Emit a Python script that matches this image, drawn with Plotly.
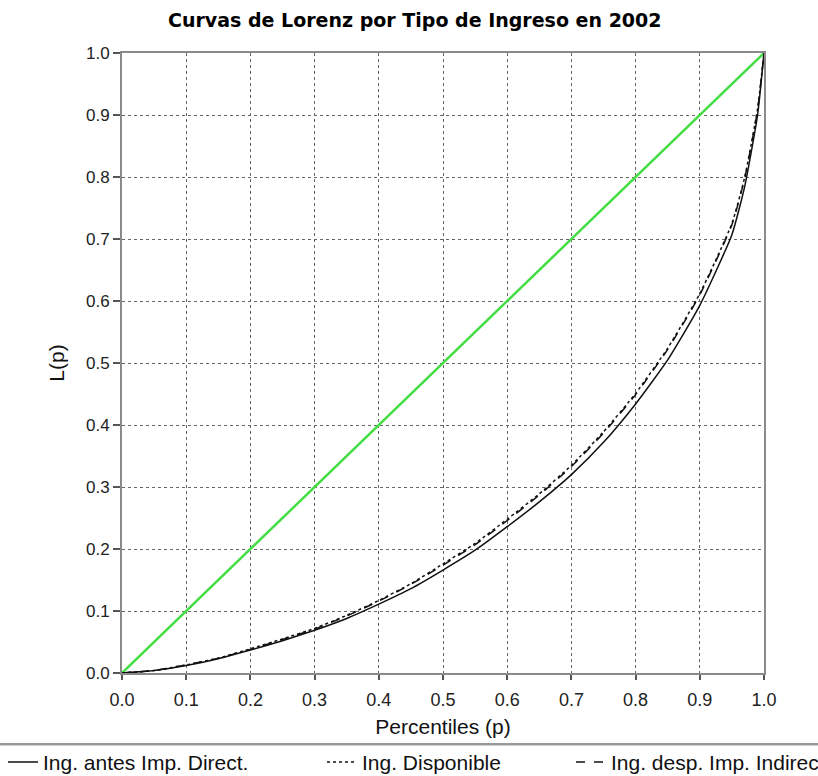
import plotly.graph_objects as go

# Data
p = [0.0, 0.05, 0.10, 0.15, 0.20, 0.25, 0.30, 0.35, 0.40, 0.45, 0.50, 0.55,
     0.60, 0.65, 0.70, 0.75, 0.80, 0.85, 0.90, 0.95, 0.97, 0.99, 1.0]
antes = [0.0, 0.004, 0.012, 0.023, 0.037, 0.052, 0.069, 0.088, 0.111, 0.136, 0.166, 0.198,
         0.236, 0.276, 0.320, 0.372, 0.434, 0.505, 0.593, 0.707, 0.785, 0.900, 1.0]
disponible = [0.0, 0.004, 0.013, 0.024, 0.039, 0.055, 0.072, 0.093, 0.117, 0.144, 0.176, 0.209,
              0.248, 0.289, 0.335, 0.389, 0.451, 0.524, 0.612, 0.725, 0.800, 0.910, 1.0]
desp_indirec = [0.0, 0.004, 0.013, 0.024, 0.038, 0.054, 0.071, 0.092, 0.116, 0.143, 0.174, 0.207,
                0.246, 0.287, 0.333, 0.387, 0.449, 0.522, 0.610, 0.723, 0.798, 0.908, 1.0]
equality = [0.0, 1.0]

ticks = [0.0, 0.1, 0.2, 0.3, 0.4, 0.5, 0.6, 0.7, 0.8, 0.9, 1.0]
tick_labels = ["0.0", "0.1", "0.2", "0.3", "0.4", "0.5", "0.6", "0.7", "0.8", "0.9", "1.0"]

FONT = "Liberation Sans, Arial, sans-serif"

fig = go.Figure()
fig.add_trace(go.Scatter(x=equality, y=equality, mode="lines",
                         line=dict(color="#44dd44", width=2.5), showlegend=False))
fig.add_trace(go.Scatter(x=p, y=antes, mode="lines", name="Ing. antes Imp. Direct.",
                         line=dict(color="#111111", width=1.5, dash="solid",
                                   shape="spline", smoothing=0.5),
                         legend="legend", legendwidth=274))
fig.add_trace(go.Scatter(x=p, y=disponible, mode="lines", name="Ing. Disponible",
                         line=dict(color="#111111", width=1.5, dash="dot",
                                   shape="spline", smoothing=0.5),
                         legend="legend", legendwidth=204))
fig.add_trace(go.Scatter(x=p, y=desp_indirec, mode="lines", name="Ing. desp. Imp. Indirec",
                         line=dict(color="#111111", width=1.5, dash="dash",
                                   shape="spline", smoothing=0.5),
                         legend="legend2"))

axis_common = dict(
    range=[0, 1], tickvals=ticks, ticktext=tick_labels,
    showgrid=True, gridcolor="#666666", griddash="3px,3px", gridwidth=1,
    showline=True, linecolor="#8a8a8a", linewidth=2, mirror=True,
    ticks="outside", tickcolor="#555555", tickwidth=1.5,
    zeroline=False, fixedrange=True,
)

legend_font = dict(family=FONT, size=21, color="#111111")

fig.update_layout(
    width=818, height=776,
    margin=dict(l=122, r=54, t=53, b=103, autoexpand=False),
    paper_bgcolor="white", plot_bgcolor="white",
    xaxis=dict(axis_common, ticklen=5, ticklabelstandoff=4,
               tickfont=dict(family=FONT, size=18, color="#222222"),
               title=dict(text="Percentiles (p)", standoff=11,
                          font=dict(family=FONT, size=21, color="#111111"))),
    yaxis=dict(axis_common, ticklen=7,
               tickfont=dict(family=FONT, size=17, color="#222222"),
               title=dict(text="L(p)", standoff=16,
                          font=dict(family=FONT, size=21, color="#111111"))),
    annotations=[dict(text="<b>Curvas de Lorenz por Tipo de Ingreso en 2002</b>",
                      x=0.456, y=1.0, xref="paper", yref="paper", yshift=33,
                      xanchor="center", yanchor="middle", showarrow=False,
                      font=dict(family="DejaVu Sans", size=19, color="black"))],
    legend=dict(orientation="h", x=(3 - 122) / 642, xanchor="left", y=-0.111, yanchor="top",
                font=legend_font, itemwidth=30, bgcolor="rgba(0,0,0,0)"),
    legend2=dict(orientation="h", x=(571 - 122) / 642, xanchor="left", y=-0.111, yanchor="top",
                 font=legend_font, itemwidth=30, bgcolor="rgba(0,0,0,0)"),
    shapes=[dict(type="line", xref="paper", yref="paper", x0=-0.2, x1=1.1,
                 y0=-0.115, y1=-0.115, line=dict(color="#999999", width=2.5))],
)

fig.write_html("out.html")
